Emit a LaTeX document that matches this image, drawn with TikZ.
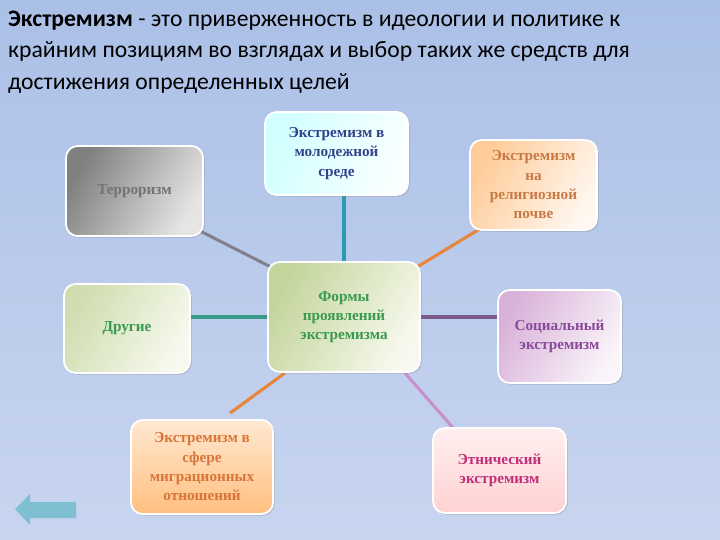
\documentclass[tikz,border=0pt]{standalone}
\usepackage{fontspec}
\setmainfont{Liberation Serif}
\newfontfamily\titlefont{Carlito}
\usetikzlibrary{calc,shadows}
\definecolor{bgtop}{HTML}{ABC0E7}
\definecolor{bgbot}{HTML}{C8D5EF}
\definecolor{tealline}{HTML}{2C9AB0}
\definecolor{grayline}{HTML}{80808E}
\definecolor{orangeline}{HTML}{E8853A}
\definecolor{greenline}{HTML}{3A9A8A}
\definecolor{purpleline}{HTML}{7A5A8A}
\definecolor{pinkline}{HTML}{C890C8}
\definecolor{backarrow}{HTML}{7EBFD2}
\definecolor{youthtxt}{HTML}{34428A}
\definecolor{religtxt}{HTML}{C87A45}
\definecolor{greentxt}{HTML}{3A9A50}
\definecolor{socialtxt}{HTML}{8A4A9A}
\definecolor{migrtxt}{HTML}{D8763A}
\definecolor{ethnictxt}{HTML}{C0307A}
\definecolor{greendark}{HTML}{C4D59C}
\definecolor{greenpale}{HTML}{F7F9EE}
\pgfdeclarelayer{back}
\pgfdeclarelayer{links}
\pgfsetlayers{back,links,main}
\tikzset{
    sz/.style 2 args={
           minimum width=#1*0.03cm,
           minimum height=#2*0.03cm},
    blok/.style={
           rectangle,
           rounded corners=10pt,
           draw=white, line width=1.5pt,
           inner sep=2pt,
           align=center,
           font=\bfseries\fontsize{13}{16.5}\selectfont,
           drop shadow={opacity=0.25, shadow xshift=1.5pt, shadow yshift=-1.5pt}},
    lin/.style={
           line width=2.6pt}
}

\begin{document}
\begin{tikzpicture}[x=0.03cm, y=-0.03cm]
        \begin{pgfonlayer}{back}
        \shade[top color=bgtop, bottom color=bgbot] (0,0) rectangle (720,540);
        \end{pgfonlayer}
        \useasboundingbox (0,0) rectangle (720,540);

        \node[anchor=north west, align=left, inner sep=0pt,
              font=\titlefont\fontsize{20.2}{26.6}\selectfont] (def) at (8,11)
             {\textbf{Экстремизм} - это приверженность в идеологии и политике к\\
              крайним позициям во взглядах и выбор таких же средств для\\
              достижения определенных целей};

        \node[blok, sz={152}{110}, left color=greendark, right color=greenpale, shading angle=60, text=greentxt] (forms) at (344,317) {Формы\\ проявлений\\ экстремизма};
        \node[blok, sz={143}{83}, left color=cyan!18!white, right color=cyan!2!white, shading angle=70, text=youthtxt] (youth) at (336.5,153.5) {Экстремизм в\\ молодежной\\ среде};
        \node[blok, sz={127}{90}, left color=orange!40, right color=orange!6, shading angle=60, text=religtxt] (relig) at (533.5,185) {Экстремизм\\ на\\ религиозной\\ почве};
        \node[blok, sz={137}{90}, left color=black!50, right color=black!10, shading angle=60, text=black!55] (terror) at (134.5,191) {Терроризм};
        \node[blok, sz={126}{89}, left color=greendark!80!white, right color=greenpale, shading angle=60, text=greentxt] (other) at (127,328.5) {Другие};
        \node[blok, sz={123}{93}, left color=violet!30, right color=violet!4, shading angle=60, text=socialtxt] (social) at (559.5,336.5) {Социальный\\ экстремизм};
        \node[blok, sz={142}{94}, top color=orange!18, bottom color=orange!50, text=migrtxt] (migr) at (202,467) {Экстремизм в\\ сфере\\ миграционных\\ отношений};
        \node[blok, sz={133}{85}, top color=pink!25, bottom color=pink!70, text=ethnictxt] (ethnic) at (499.5,470.5) {Этнический\\ экстремизм};

        \begin{pgfonlayer}{links}
        \draw[lin, tealline] (forms.north |- youth.south) -- (forms.north);
        \draw[lin, grayline] ($(terror.south east)+(-8,-8)$) -- ($(forms.north west)+(8,8)$);
        \draw[lin, orangeline] ($(forms.north east)+(-4,6)$) -- ($(relig.south west)+(14,-4)$);
        \draw[lin, greenline] (other.east |- forms.west) -- (forms.west);
        \draw[lin, purpleline] (forms.east) -- (social.west |- forms.east);
        \draw[lin, orangeline] ($(forms.south west)+(18,0)$) -- ($(migr.north)+(28,-6)$);
        \draw[lin, pinkline] ($(forms.south east)+(-16,0)$) -- ($(ethnic.north west)+(22,2)$);
        \end{pgfonlayer}

        % back button
        \fill[backarrow] (15,509) -- (30,494) -- (30,502) -- (76,502) -- (76,518) -- (30,518) -- (30,525) -- cycle;
\end{tikzpicture}
\end{document}
